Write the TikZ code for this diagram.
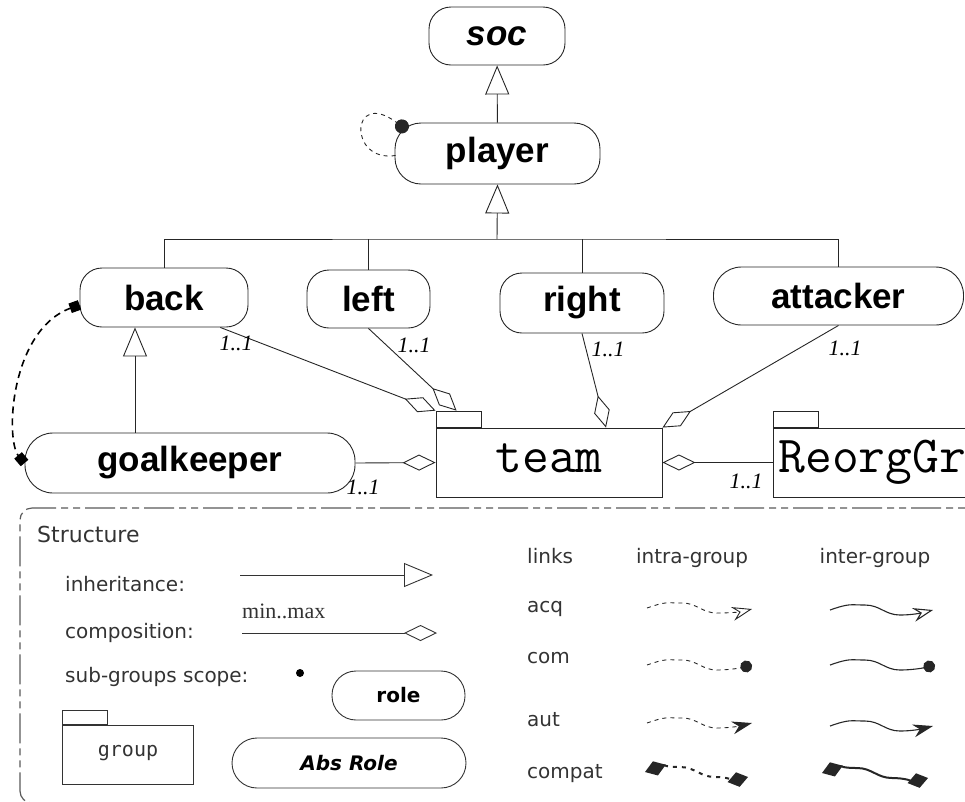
\documentclass[tikz,border=0pt]{standalone}
\usepackage{fontspec}
\usetikzlibrary{arrows.meta,calc}
\newfontfamily\rolef{Liberation Sans}
\newfontfamily\cardf{Liberation Serif}
\newfontfamily\legf{DejaVu Sans}
\newfontfamily\legmf{DejaVu Sans Mono}
\newcommand\wavelink[3]{\draw[#1] (#2) .. controls +(20,-7) and +(-15,0) .. ++(35,-5) .. controls +(15,0) and +(-15,0) .. ++(35,10) .. controls +(12,0) and +(-12,3) .. (#3);}
\begin{document}
\begin{tikzpicture}[x=1pt,y=-1pt,
  conn/.style={draw=black!85, line width=0.9pt},
  role/.style={draw=black!85, line width=0.9pt, rounded corners=22pt, inner sep=0pt, font=\rolef\bfseries\fontsize{35}{40}\selectfont},
  wrole/.style={role, rounded corners=28pt},
  grp/.style={draw=black!85, line width=0.9pt, inner sep=0pt, font=\ttfamily\fontsize{52}{56}\selectfont},
  tabbox/.style={draw=black!85, line width=0.9pt, inner sep=0pt},
  card/.style={inner sep=0pt, font=\cardf\itshape\fontsize{22}{24}\selectfont},
  inh/.style={conn, -{Triangle[open,length=29pt,width=24pt]}},
  comp/.style={conn, -{Diamond[open,length=33pt,width=16pt]}},
  legtxt/.style={inner sep=0pt, text=black!80, font=\legf\fontsize{20}{24}\selectfont},
  legrole/.style={draw=black!80, line width=0.9pt, inner sep=0pt, font=\legf\bfseries\fontsize{20}{24}\selectfont},
  frame/.style={draw=black!65, line width=1.2pt, rounded corners=12pt, dash pattern=on 30pt off 5pt on 7pt off 5pt on 7pt off 5pt},
  intra/.style={draw=black!85, line width=0.9pt, dash pattern=on 4pt off 4pt},
  inter/.style={draw=black!85, line width=1.1pt},
  acqtip/.style={-{Stealth[open,length=20pt,width=14pt,inset=7pt]}},
  comtip/.style={-{Circle[length=12pt]}},
  auttip/.style={-{Stealth[length=20pt,width=13pt]}},
  compattip/.style={{Diamond[length=22pt,width=15pt]}-{Diamond[length=21pt,width=15pt]}, line width=2pt}
]
\useasboundingbox (0,0) rectangle (965,801);

% ---------- roles ----------
\node[role, minimum width=136pt, minimum height=58pt] (soc) at (497,36) {\itshape soc};
\node[role, rounded corners=26pt, minimum width=205pt, minimum height=61pt] (player) at (497.5,153.5) {player};
\node[role, minimum width=168pt, minimum height=59pt] (back) at (164,297.5) {back};
\node[role, minimum width=123pt, minimum height=58pt] (left) at (368.5,299) {left};
\node[role, minimum width=164pt, minimum height=60pt] (right) at (582,303) {right};
\node[wrole, minimum width=250pt, minimum height=58pt] (attacker) at (838.5,296) {attacker};
\node[wrole, minimum width=330pt, minimum height=60pt] (goalkeeper) at (190,463) {goalkeeper};

% ---------- groups ----------
\node[grp, minimum width=226pt, minimum height=69pt, text depth=8pt] (team) at (549,462.5) {team};
\node[tabbox, minimum width=45pt, minimum height=16pt, anchor=south west] (teamtab) at (team.north west) {};
\node[grp, minimum height=69pt, text width=317pt, inner xsep=5pt, align=left, anchor=west] (reorg) at (773,462.5) {ReorgGr};
\node[tabbox, minimum width=45pt, minimum height=16pt, anchor=south west] (reorgtab) at (reorg.north west) {};

% ---------- inheritance ----------
\draw[inh] (player) -- (soc);
\coordinate (bar) at (497,239);
\draw[conn] (back.north) |- (bar) -| (attacker.north);
\draw[conn] (left.north) -- (left.north |- bar);
\draw[conn] (right.north) -- (right.north |- bar);
\draw[inh] (bar) -- (player.south);
\coordinate (gkup) at ($(goalkeeper.north)+(-55,0)$);
\draw[inh] (gkup) -- (gkup |- back.south);

% ---------- self loop on player ----------
\draw[draw=black!85, line width=0.9pt, dash pattern=on 4pt off 4pt, -{Circle[length=14pt]}]
  ($(player.west)+(1,2)$) .. controls (348,163) and (350,88) .. ($(player.north west)+(13,8)$);

% ---------- compat back - goalkeeper ----------
\draw[draw=black, line width=1.6pt, dash pattern=on 7pt off 5pt, {Square[length=10pt,width=10pt]}-{Square[length=10pt,width=10pt]}]
  (back.185) .. controls (10,330) and (5,440) .. (goalkeeper.west);

% ---------- compositions ----------
\draw[comp] (back.-28) -- (teamtab.north west);
\draw[comp] (left.south) -- ($(teamtab.north west)+(21,0)$);
\draw[comp] (right.south) -- ($(team.north)+(57,0)$);
\draw[comp] (attacker.south) -- (team.north east);
\draw[comp] (goalkeeper.east) -- (team.west);
\draw[comp] (reorg.west) -- (team.east);

\node[card] (c1) at (236,343) {1..1};
\node[card] (c2) at (414,345) {1..1};
\node[card] (c3) at (608,349) {1..1};
\node[card] (c4) at (845,348) {1..1};
\node[card] (c5) at (363,487) {1..1};
\node[card] (c6) at (746,481) {1..1};

% ---------- legend frame ----------
\draw[frame] (1000,508) -- (20,508) -- (20,803) -- (1000,803);

\node[legtxt, anchor=base west, font=\legf\fontsize{22}{26}\selectfont] (lstruct) at (37,542) {Structure};
\node[legtxt, anchor=base west] (linh) at (65,591) {inheritance:};
\node[legtxt, anchor=base west] (lcomp) at (65,638) {composition:};
\node[legtxt, anchor=base west] (lsub) at (65,682) {sub-groups scope:};
\node[inner sep=0pt, anchor=base west, text=black!80, font=\cardf\fontsize{22}{24}\selectfont] (lminmax) at (242,618) {min..max};

\coordinate (inhA) at (240,575);
\coordinate (inhB) at (433,575);
\draw[inh, draw=black!80] (inhA) -- (inhB);
\coordinate (compA) at (242,633);
\coordinate (compB) at (437,633);
\draw[comp, draw=black!80] (compA) -- (compB);
\fill[black] (300,673) circle (4);

\node[legrole, rounded corners=24pt, minimum width=133pt, minimum height=49pt] (lrole) at (398.5,695.5) {role};
\node[legrole, rounded corners=25pt, minimum width=234pt, minimum height=50pt] (labs) at (349,763) {\itshape Abs Role};
\node[tabbox, draw=black!80, minimum width=131pt, minimum height=59pt] (lgroup) at (127.5,754.5) {};
\node[tabbox, draw=black!80, minimum width=45pt, minimum height=14pt, anchor=south west] (lgrouptab) at (lgroup.north west) {};
\node[inner sep=0pt, text=black!80, font=\legmf\fontsize{20}{24}\selectfont] (lgrouptxt) at (128,753) {group};

% ---------- links legend ----------
\node[legtxt, anchor=base west] (llinks) at (527,563) {links};
\node[legtxt, anchor=base] (lintra) at (692,563) {intra-group};
\node[legtxt, anchor=base] (linter) at (875,563) {inter-group};
\node[legtxt, anchor=base west] (lacq) at (527,612) {acq};
\node[legtxt, anchor=base west] (lcom) at (527,663) {com};
\node[legtxt, anchor=base west] (laut) at (527,726) {aut};
\node[legtxt, anchor=base west] (lcompat) at (527,778) {compat};

\coordinate (acqS) at (647,608);   \coordinate (acqE) at (752,609);
\coordinate (acqS2) at (830,610);  \coordinate (acqE2) at (933,610);
\coordinate (comS) at (647,665);   \coordinate (comE) at (752,665);
\coordinate (comS2) at (830,665);  \coordinate (comE2) at (935,665);
\coordinate (autS) at (647,723);   \coordinate (autE) at (752,723);
\coordinate (autS2) at (830,726);  \coordinate (autE2) at (933,726);
\coordinate (cpS) at (645,772);    \coordinate (cpE) at (748,777);
\coordinate (cpS2) at (822,773);   \coordinate (cpE2) at (928,778);

\wavelink{intra, acqtip}{acqS}{acqE}
\wavelink{inter, acqtip}{acqS2}{acqE2}
\wavelink{intra, comtip}{comS}{comE}
\wavelink{inter, comtip}{comS2}{comE2}
\wavelink{intra, auttip}{autS}{autE}
\wavelink{inter, auttip}{autS2}{autE2}
\wavelink{intra, compattip, dash pattern=on 4pt off 5pt}{cpS}{cpE}
\wavelink{inter, compattip}{cpS2}{cpE2}
\end{tikzpicture}
\end{document}
